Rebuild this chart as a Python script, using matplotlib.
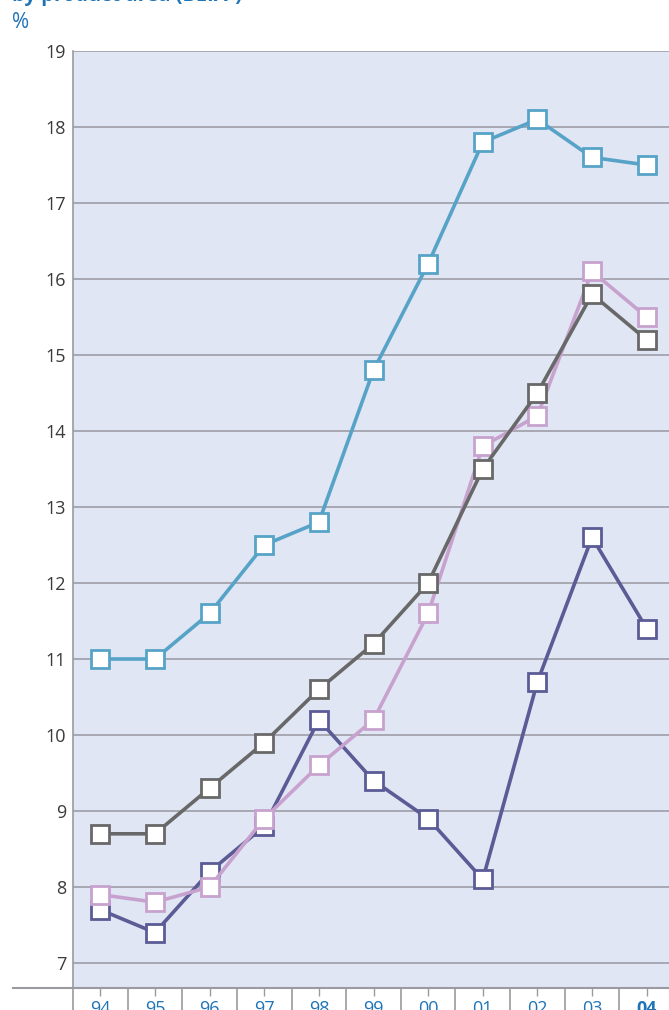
import matplotlib.pyplot as plt
from matplotlib.lines import Line2D

plt.rcParams['font.family'] = ['Open Sans', 'DejaVu Sans']

years = ["94", "95", "96", "97", "98", "99", "00", "01", "02", "03", "04"]
yticks = [7, 8, 9, 10, 11, 12, 13, 14, 15, 16, 17, 18, 19]

series_blue = [11.0, 11.0, 11.6, 12.5, 12.8, 14.8, 16.2, 17.8, 18.1, 17.6, 17.5]
series_gray = [8.7, 8.7, 9.3, 9.9, 10.6, 11.2, 12.0, 13.5, 14.5, 15.8, 15.2]
series_pink = [7.9, 7.8, 8.0, 8.9, 9.6, 10.2, 11.6, 13.8, 14.2, 16.1, 15.5]
series_purple = [7.7, 7.4, 8.2, 8.8, 10.2, 9.4, 8.9, 8.1, 10.7, 12.6, 11.4]

BLUE_TXT = "#1f74b8"
W, H = 669, 1010

fig = plt.figure(figsize=(W / 100, H / 100), dpi=100)
left, right = 73 / W, 674 / W
top, bottom = 1 - 51 / H, 1 - 988 / H
ax = fig.add_axes([left, bottom, right - left, top - bottom])
ax.set_facecolor("#e1e6f4")

x = list(range(len(years)))
ax.set_xlim(-0.5, len(years) - 0.5)
ax.set_ylim(19 - (988 - 51) / 76, 19)

for v in yticks:
    ax.axhline(v, color="#a2a3ab", lw=1.3, zorder=1)

# draw order: purple, pink, gray, blue
for vals, col in [(series_purple, "#5b5b95"), (series_pink, "#c8a2cf"),
                  (series_gray, "#686868"), (series_blue, "#57a3c8")]:
    ax.plot(x, vals, color=col, lw=2.6, marker="s", ms=12.5,
            mfc="white", mec=col, mew=2.0, zorder=3, clip_on=False)

for s in ["top", "right", "bottom"]:
    ax.spines[s].set_visible(False)
ax.spines["left"].set_color("#9a9aa0")
ax.spines["left"].set_linewidth(1.2)

ax.set_yticks(yticks)
ax.set_yticklabels([str(v) for v in yticks], fontsize=13, color="#3a3a3a")
ax.tick_params(axis="y", length=0, pad=5)

ax.set_xticks(x)
ax.set_xticklabels(years, fontsize=13, color=BLUE_TXT)
ax.get_xticklabels()[-1].set_fontweight("bold")
ax.tick_params(axis="x", length=6, width=1, color="#9a9aa0", pad=3, direction="out")

# bottom axis line extending left, boundary separators and left spine below
fig.add_artist(Line2D([13 / W, 1], [bottom, bottom], transform=fig.transFigure,
                      color="#9a9aa0", lw=1.5))
for i in range(len(years)):
    xb = left + (right - left) * i / len(years)
    fig.add_artist(Line2D([xb, xb], [0, bottom], transform=fig.transFigure,
                          color="#9a9aa0", lw=1.2))

fig.text(12 / W, 1 - 1 / H, "by product area (BEIA\u00b9)", fontsize=14.5,
         fontweight="bold", color=BLUE_TXT, va="baseline", ha="left")
fig.text(12 / W, 1 - 28 / H, "%", fontsize=15, color=BLUE_TXT,
         va="baseline", ha="left")

fig.savefig("out.png", dpi=100)
